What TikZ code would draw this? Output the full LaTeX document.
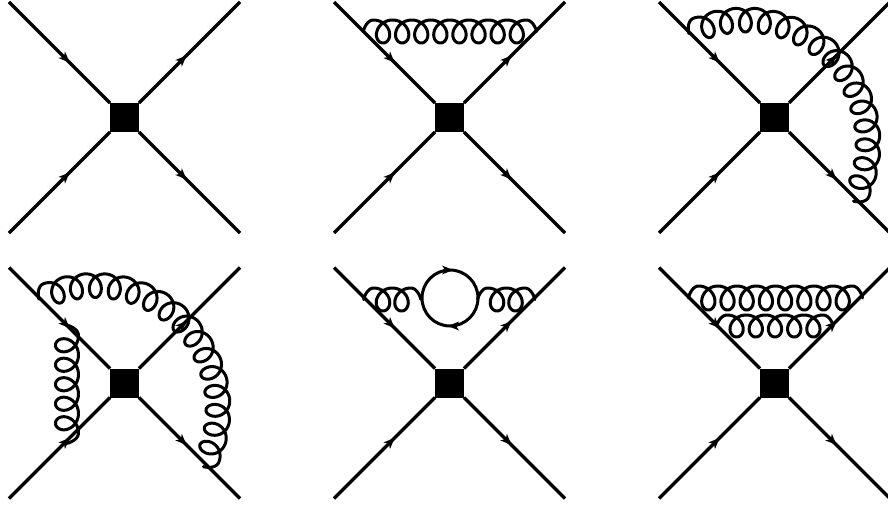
\documentclass[tikz,border=0pt]{standalone}
\usetikzlibrary{arrows.meta,decorations.markings}
\tikzset{
  fermtip/.tip={Stealth[length=11pt,width=9pt,inset=3pt]},
  vertexbox/.style={rectangle,fill=black,draw=none,minimum size=29pt,inner sep=0pt,outer sep=0pt},
  fermline/.style={line width=3.3pt},
  fermin/.style={fermline,postaction={decorate},decoration={markings,mark=at position 0.6 with {\arrow{fermtip}}}},
  fermout/.style={fermline,postaction={decorate},decoration={markings,mark=at position 0.47 with {\arrow{fermtip}}}},
  gluonline/.style={line width=3pt,line join=round,line cap=round},
  loopline/.style={line width=3pt},
}
% straight gluon: origin coordinate (top at t=0), loops n, period p
\newcommand{\hgluon}[4]{% origin, n, period, half-height
  \draw[gluonline,shift={(#1)}] plot[variable=\t,domain=-90:{360*#2+90},samples={int(40*#2+21)}]
    ({#3*(\t/360)+((\t<0||\t>360*#2)?5.5:11)*sin(\t)},{#4*(1-cos(\t))});}
\newcommand{\vgluon}[4]{% origin, n, period, half-height: loops towards the left
  \draw[gluonline,shift={(#1)}] plot[variable=\t,domain=-90:{360*#2+90},samples={int(40*#2+21)}]
    ({-#4*(1-cos(\t))},{#3*(\t/360)+((\t<0||\t>360*#2)?5.5:11)*sin(\t)});}
\newcommand{\agluon}[6]{% centre, R, theta0, dtheta, n, half-height
  \draw[gluonline,shift={(#1)}] plot[variable=\t,domain=-90:{360*#5+90},samples={int(40*#5+21)}]
    ({(#2-#6*(1-cos(\t)))*cos(#3+#4*(\t/360)+((\t<0||\t>360*#5)?2.4:4.9)*sin(\t))},
     {(#2-#6*(1-cos(\t)))*sin(#3+#4*(\t/360)+((\t<0||\t>360*#5)?2.4:4.9)*sin(\t))});}
% four-fermion vertex
\newcommand{\vertexfour}[3]{% name, x, y
  \node[vertexbox] (#1) at (#2,#3) {};
  \coordinate (#1tl) at ({#2-115.5},{#3-115.5});
  \coordinate (#1tr) at ({#2+115.5},{#3-115.5});
  \coordinate (#1bl) at ({#2-115.5},{#3+115.5});
  \coordinate (#1br) at ({#2+115.5},{#3+115.5});
  \draw[fermin] (#1tl) -- (#1);
  \draw[fermin] (#1bl) -- (#1);
  \draw[fermout] (#1) -- (#1tr);
  \draw[fermout] (#1) -- (#1br);}
\begin{document}
\begin{tikzpicture}[x=1pt,y=-1pt]
\useasboundingbox (0,0) rectangle (888,508);
\vertexfour{a}{124.5}{117.5}
\vertexfour{b}{449.5}{117.5}
\vertexfour{c}{774.5}{117.5}
\vertexfour{d}{124.5}{383}
\vertexfour{e}{449.5}{383}
\vertexfour{f}{774.5}{383}
% panel 2
\coordinate (g2) at (373.5,20);
\hgluon{g2}{8}{19.1}{11.5}
% panel 3
\coordinate (o3) at (745,143);
\agluon{o3}{135}{-112.5}{9.07}{15}{12}
% panel 4
\coordinate (o4) at (95,408.5);
\agluon{o4}{135}{-112.5}{9.07}{15}{12}
\coordinate (g4) at (78.5,335.5);
\vgluon{g4}{5}{19.5}{11.5}
% panel 5
\node[circle,draw=black,loopline,minimum size=56pt,inner sep=0pt,outer sep=0pt] (q) at (450,298) {};
\draw[-fermtip,line width=0pt] ([xshift=-5pt]q.north) -- ([xshift=3pt]q.north);
\draw[-fermtip,line width=0pt] ([xshift=6pt]q.south) -- ([xshift=-2pt]q.south);
\coordinate (g5a) at (373.75,288);
\hgluon{g5a}{2}{18.5}{11.5}
\coordinate (g5b) at (487.75,288);
\hgluon{g5b}{2}{18.5}{11.5}
% panel 6
\coordinate (g6a) at (698.7,286);
\hgluon{g6a}{8}{19.2}{12}
\coordinate (g6b) at (727,315);
\hgluon{g6b}{5}{19.2}{11}
\end{tikzpicture}
\end{document}
